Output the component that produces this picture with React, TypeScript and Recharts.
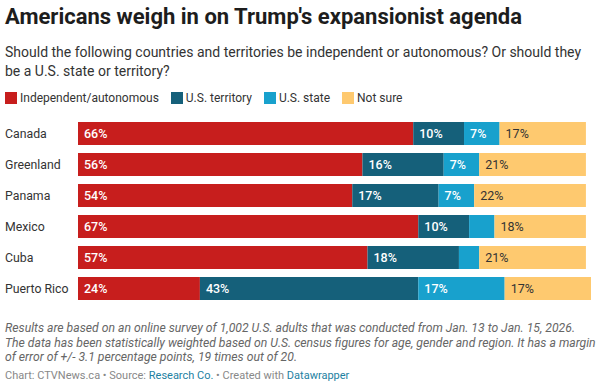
import { BarChart, Bar, XAxis, YAxis, LabelList } from 'recharts'

const countries = ['Canada', 'Greenland', 'Panama', 'Mexico', 'Cuba', 'Puerto Rico']
const independent = [66, 56, 54, 67, 57, 24]
const territory = [10, 16, 17, 10, 18, 43]
const state = [7, 7, 7, 5, 4, 17]
const notSure = [17, 21, 22, 18, 21, 17]

const seriesKeys = ['independent', 'territory', 'state', 'notSure']
const seriesNames = ['Independent/autonomous', 'U.S. territory', 'U.S. state', 'Not sure']
const seriesColors = ['#c71e1d', '#15607a', '#18a1cd', '#fec96f']
const labelColors = ['#ffffff', '#ffffff', '#ffffff', '#333333']

const FONT = 'Roboto, "Noto Sans", sans-serif'

const chartData = countries.map((name, i) => ({
  name,
  independent: independent[i],
  territory: territory[i],
  state: state[i],
  notSure: notSure[i],
}))

function CategoryTick({ y, payload }: any) {
  return (
    <text x={5} y={y} dy={4.5} fontSize={12.3} fill="#333" fontFamily={FONT} textAnchor="start">
      {payload.value}
    </text>
  )
}

function makeLabel(color: string, weight: number) {
  return (props: any) => {
    const { x, y, width, height, value } = props
    // small segments get no label
    if (value < 7) return null
    return (
      <text
        x={x + 6}
        y={y + height / 2}
        dy={4.5}
        fontSize={12.5}
        fontWeight={weight}
        fill={color}
        fontFamily={FONT}
      >
        {value}%
      </text>
    )
  }
}

export default function App() {
  return (
    <div
      style={{
        position: 'absolute',
        left: 0,
        top: 0,
        width: 602,
        height: 387,
        background: '#fff',
        fontFamily: FONT,
        color: '#333',
      }}
    >
      <div style={{ position: 'absolute', left: 5, top: 4, fontSize: 22, fontWeight: 700, color: '#1d1d1d', whiteSpace: 'nowrap' }}>
        Americans weigh in on Trump's expansionist agenda
      </div>
      <div style={{ position: 'absolute', left: 5, top: 43, fontSize: 14, lineHeight: '19px', color: '#333', whiteSpace: 'nowrap' }}>
        Should the following countries and territories be independent or autonomous? Or should they
        <br />
        be a U.S. state or territory?
      </div>
      <div style={{ position: 'absolute', left: 5, top: 91, display: 'flex', fontSize: 12, color: '#333' }}>
        {seriesNames.map((n, i) => (
          <div key={n} style={{ display: 'flex', alignItems: 'center', marginRight: 12 }}>
            <span style={{ width: 12, height: 12, background: seriesColors[i], display: 'inline-block', marginRight: 3 }} />
            <span>{n}</span>
          </div>
        ))}
      </div>

      <div style={{ position: 'absolute', left: 0, top: 0 }}>
        <BarChart
          width={602}
          height={387}
          data={chartData}
          layout="vertical"
          margin={{ top: 118, bottom: 83, left: 5, right: 11 }}
          barCategoryGap={4}
        >
          <XAxis type="number" domain={[0, 101]} hide />
          <YAxis
            type="category"
            dataKey="name"
            width={73}
            axisLine={false}
            tickLine={false}
            tick={<CategoryTick />}
          />
          {seriesKeys.map((k, i) => (
            <Bar key={k} dataKey={k} stackId="a" fill={seriesColors[i]} isAnimationActive={false}>
              <LabelList dataKey={k} content={makeLabel(labelColors[i], i === 3 ? 400 : 500)} />
            </Bar>
          ))}
        </BarChart>
      </div>

      <div style={{ position: 'absolute', left: 5, top: 321, fontSize: 12.2, lineHeight: '14.7px', fontStyle: 'italic', color: '#666', whiteSpace: 'nowrap' }}>
        Results are based on an online survey of 1,002 U.S. adults that was conducted from Jan. 13 to Jan. 15, 2026.
        <br />
        The data has been statistically weighted based on U.S. census figures for age, gender and region. It has a margin
        <br />
        of error of +/- 3.1 percentage points, 19 times out of 20.
      </div>
      <div style={{ position: 'absolute', left: 5, top: 369, fontSize: 11, color: '#888', whiteSpace: 'nowrap' }}>
        Chart: CTVNews.ca • Source: <span style={{ color: '#1d81a2' }}>Research Co.</span> • Created with{' '}
        <span style={{ color: '#1d81a2' }}>Datawrapper</span>
      </div>
    </div>
  )
}
